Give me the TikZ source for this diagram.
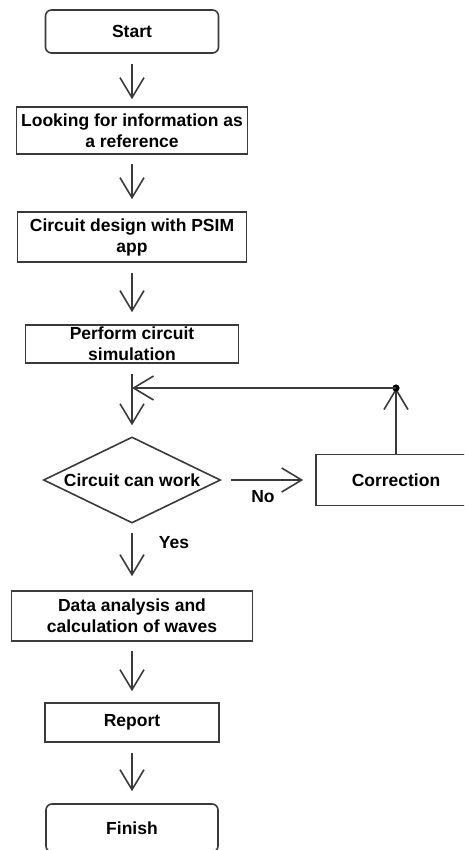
\documentclass[tikz,border=0pt]{standalone}
\usepackage{fontspec}
\setmainfont{Liberation Sans}
\usetikzlibrary{arrows.meta}
\definecolor{ln}{HTML}{3A3A3A}
\begin{document}
\begin{tikzpicture}[x=1pt,y=-1pt,
  every node/.style={font=\fontsize{17.5}{21}\selectfont\bfseries, text=black, align=center, inner sep=0pt},
  box/.style={draw=ln, line width=1.6pt},
  rbox/.style={box, rounded corners=6pt},
  arr/.style={draw=ln, line width=1.6pt, -{Straight Barb[length=20pt,width=24pt]}},
  conn/.style={draw=ln, line width=1.6pt}]
\useasboundingbox (0,0) rectangle (464,850);
\clip (0,0) rectangle (464,850);
\node[rbox, minimum width=173pt, minimum height=43pt] (start) at (132,31.5) {Start};
\node[box, minimum width=231pt, minimum height=47pt] (look) at (132,130.5) {Looking for information as\\a reference};
\node[box, minimum width=229pt, minimum height=50pt] (design) at (132,237) {Circuit design with PSIM\\app};
\node[box, minimum width=213pt, minimum height=38pt] (sim) at (132,344) {Perform circuit\\simulation};
\node[minimum width=176pt, minimum height=85pt] (d) at (132,480) {Circuit can work};
\draw[conn] (d.north) -- (d.east) -- (d.south) -- (d.west) -- cycle;
\node[box, minimum width=160pt, minimum height=51pt] (corr) at (396,480) {Correction};
\node[box, minimum width=241pt, minimum height=50pt] (data) at (132,616) {Data analysis and\\calculation of waves};
\node[box, minimum width=174pt, minimum height=39pt] (report) at (132,722.5) {Report};
\node[rbox, minimum width=172pt, minimum height=48pt] (finish) at (132,828) {Finish};
\coordinate (j) at (396,388);
\draw[arr, shorten <=10pt, shorten >=7pt] (start) -- (look);
\draw[arr, shorten <=9pt, shorten >=12pt] (look) -- (design);
\draw[arr, shorten <=10pt, shorten >=12pt] (design) -- (sim);
\draw[arr, shorten <=10pt, shorten >=12pt] (sim) -- (d.north);
\draw[arr, shorten <=11pt, shorten >=12pt] (d.east) -- (corr);
\draw[arr] (corr) -- (j);
\fill[black] (j) circle (3.6pt);
\draw[arr] (j) -- (j -| d.north);
\draw[arr, shorten <=10pt, shorten >=14pt] (d.south) -- (data);
\draw[arr, shorten <=9pt, shorten >=11pt] (data) -- (report);
\draw[arr, shorten <=10pt, shorten >=12pt] (report) -- (finish);
\node (no) at (263,497) {No};
\node (yes) at (174,543) {Yes};
\end{tikzpicture}
\end{document}
